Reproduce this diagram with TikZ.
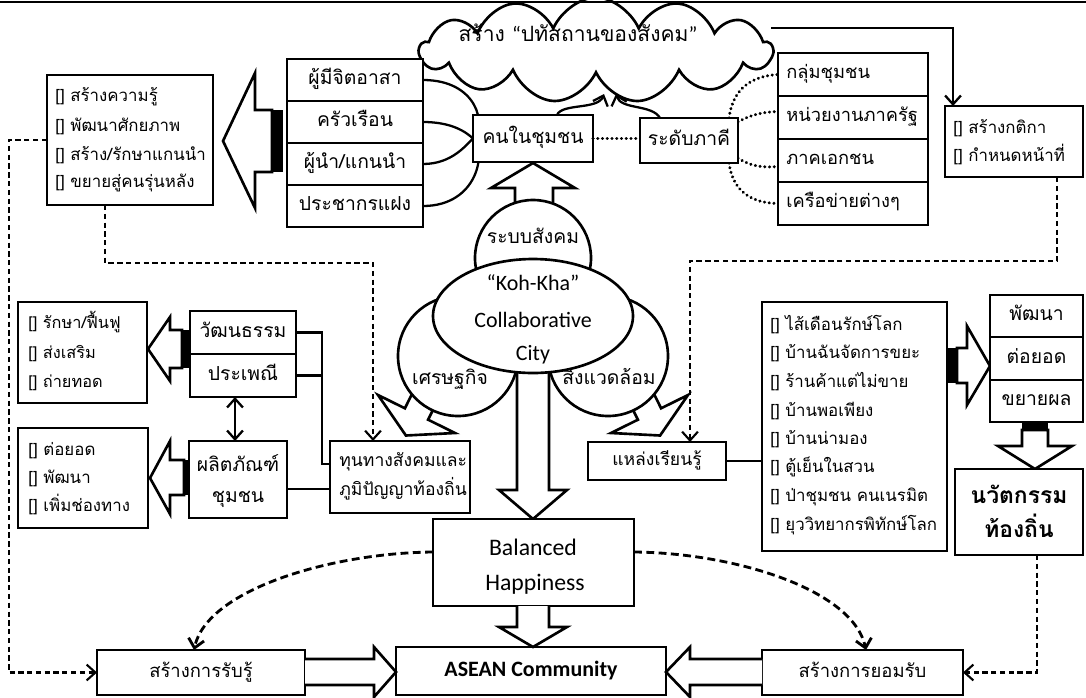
\documentclass[tikz,border=0pt]{standalone}
\usepackage{fontspec}
\setmainfont{Carlito}
\newfontfamily\thf[Script=Thai]{Loma}
\usetikzlibrary{shapes.geometric,shapes.symbols,arrows.meta,backgrounds,calc}
\tikzset{
 bx/.style={draw,line width=1.5pt,fill=white,inner sep=0pt,outer sep=0pt},
 tlab/.style={inner sep=0pt,font=\thf\fontsize{11}{13}\selectfont,text height=8pt,text depth=2.8pt},
 tlst/.style={inner sep=0pt,anchor=west,font=\thf\fontsize{9.6}{11}\selectfont,text height=6.8pt,text depth=2.4pt},
 tlat/.style={inner sep=0pt,font=\fontsize{12.5}{14}\selectfont},
 conn/.style={line width=1.3pt},
 dsh/.style={line width=1.2pt,dash pattern=on 3pt off 2pt},
 dshb/.style={line width=1.6pt,dash pattern=on 4.5pt off 2.5pt},
 dotl/.style={line width=1.8pt,dash pattern=on 0.1pt off 2.6pt,line cap=round},
 harrow/.style={draw,line width=1.5pt,fill=white,line join=miter},
 tipb/.style={-{Straight Barb[length=5pt,width=9pt]}},
}
\newcommand\mkbox[7][]{\node[bx,minimum width={(#5-#3)*0.02cm},minimum height={(#6-#4)*0.02cm},#1] (#2) at ({(#3+#5)/2},{(#4+#6)/2}) {#7};}
\begin{document}
\begin{tikzpicture}[x=0.02cm,y=-0.02cm]
\useasboundingbox (0,0) rectangle (1086,697);

% ---- cloud
\node[cloud,cloud ignores aspect,draw,line width=1.5pt,fill=white,cloud puffs=13,cloud puff arc=120,minimum width={352*0.02cm},minimum height={84*0.02cm},inner sep=0pt,yscale=1.25,transform shape] (cloud) at (596,50) {};
\node[tlab,font=\thf\fontsize{12}{14}\selectfont] (ctx) at (578,37) {สร้าง {\normalfont“}ปทัสถานของสังคม{\normalfont”}};
\draw[line width=1.2pt] (0,2) -- (1086,2);

% ---- upper left
\mkbox{lista}{47}{75}{213}{205}{}
\node[tlst] (a1) at (55,98) {[] สร้างความรู้};
\node[tlst] (a2) at (55,128) {[] พัฒนาศักยภาพ};
\node[tlst] (a3) at (55,157) {[] สร้าง/รักษาแกนนำ};
\node[tlst] (a4) at (55,184) {[] ขยายสู่คนรุ่นหลัง};
\draw[harrow] (272,110) -- (255,110) -- (255,73) -- (223,141) -- (255,208) -- (255,172) -- (272,172) -- cycle;
\fill (272,110) rectangle (283,172);
\mkbox[tlab]{s1}{287}{59}{423}{101}{ผู้มีจิตอาสา}
\mkbox[tlab]{s2}{287}{101}{423}{143}{ครัวเรือน}
\mkbox[tlab]{s3}{287}{143}{423}{185}{ผู้นำ/แกนนำ}
\mkbox[tlab]{s4}{287}{185}{423}{227}{ประชากรแฝง}

% ---- centre top
\mkbox[tlab]{knc}{473}{115}{593}{162}{คนในชุมชน}
\mkbox[tlab]{rdp}{640}{118}{738}{163}{ระดับภาคี}
\mkbox{r1}{778}{53}{928}{96}{}
\mkbox{r2}{778}{96}{928}{139}{}
\mkbox{r3}{778}{139}{928}{182}{}
\mkbox{r4}{778}{182}{928}{225}{}
\node[tlab,anchor=west,font=\thf\fontsize{10.4}{12}\selectfont] (r1t) at (786,74) {กลุ่มชุมชน};
\node[tlab,anchor=west,font=\thf\fontsize{10.4}{12}\selectfont] (r2t) at (786,117) {หน่วยงานภาครัฐ};
\node[tlab,anchor=west,font=\thf\fontsize{10.4}{12}\selectfont] (r3t) at (786,160) {ภาคเอกชน};
\node[tlab,anchor=west,font=\thf\fontsize{10.4}{12}\selectfont] (r4t) at (786,203) {เครือข่ายต่างๆ};
\begin{pgfonlayer}{background}
\draw[conn] (s1.east) .. controls (478,80) and (487,126) .. (knc.west);
\draw[conn] (s2.east) .. controls (452,122) and (466,132) .. (knc.west);
\draw[conn] (s3.east) .. controls (452,164) and (466,145) .. (knc.west);
\draw[conn] (s4.east) .. controls (478,206) and (487,151) .. (knc.west);
\draw[dotl] ($(rdp.north east)+(-9,0)$) .. controls (733,88) and (752,76) .. ($(r1.west)+(0,0)$);
\draw[dotl] ($(rdp.north east)+(0,4)$) .. controls (750,115) and (762,112) .. ($(r2.west)+(0,-6)$);
\draw[dotl] ($(rdp.south east)+(0,-5)$) .. controls (750,166) and (762,168) .. ($(r3.west)+(0,6)$);
\draw[dotl] ($(rdp.south east)+(-9,0)$) .. controls (733,192) and (752,203) .. (r4.west);
\end{pgfonlayer}
\draw[dotl] (knc.east) -- (rdp.west |- knc.east);
\coordinate (ca1) at (604,94);
\coordinate (ca2) at (616,94);
\draw[conn,tipb] ($(knc.north)+(24,0)$) .. controls (562,103) and (598,110) .. (ca1);
\draw[conn,tipb] ($(rdp.north)+(-29,0)$) .. controls (652,104) and (621,110) .. (ca2);
\mkbox{kt}{945}{106}{1083}{177}{}
\node[tlst] (k1) at (953,130) {[] สร้างกติกา};
\node[tlst] (k2) at (953,158) {[] กำหนดหน้าที่};
\coordinate (cr) at (771,28);
\draw[conn,tipb] (cr) -| ($(kt.north west)+(8,0)$);

% ---- three circles and ellipse
\draw[harrow] (515,215) -- (515,188) -- (491,188) -- (533,163) -- (575,188) -- (553,188) -- (553,215) -- cycle;
\node[circle,draw,line width=1.5pt,fill=white,minimum size={116*0.02cm},inner sep=0pt] (soc) at (533,258) {};
\node[tlab] (soct) at (533,239) {ระบบสังคม};
\draw[harrow] (422.6,372.5) -- (404.9,408.3) -- (378,395) -- (405.9,435.5) -- (455,433) -- (428.1,419.7) -- (445.8,383.9) -- cycle;
\draw[harrow] (643.4,372.5) -- (661.1,408.3) -- (688,395) -- (660.1,435.5) -- (611,433) -- (637.9,419.7) -- (620.2,383.9) -- cycle;
\node[circle,draw,line width=1.5pt,fill=white,minimum size={120*0.02cm},inner sep=0pt] (eco) at (458,356) {};
\node[circle,draw,line width=1.5pt,fill=white,minimum size={120*0.02cm},inner sep=0pt] (env) at (608,356) {};
\node[tlab] (ecot) at (450,380) {เศรษฐกิจ};
\node[tlab] (envt) at (609,380) {สิ่งแวดล้อม};
\draw[harrow] (517,368) -- (517,490) -- (499,490) -- (533,519) -- (567,490) -- (549,490) -- (549,368) -- cycle;
\node[ellipse,draw,line width=1.5pt,fill=white,minimum width={200*0.02cm},minimum height={114*0.02cm},inner sep=0pt] (kk) at (533,316) {};
\node[tlat] (kk1) at (533,283) {“Koh-Kha”};
\node[tlat] (kk2) at (533,320) {Collaborative};
\node[tlat] (kk3) at (533,355) {City};

% ---- middle left
\mkbox{listb}{18}{302}{147}{403}{}
\node[tlst,font=\thf\fontsize{9.3}{11}\selectfont] (b1) at (28,325) {[] รักษา/ฟื้นฟู};
\node[tlst,font=\thf\fontsize{9.3}{11}\selectfont] (b2) at (28,355) {[] ส่งเสริม};
\node[tlst,font=\thf\fontsize{9.3}{11}\selectfont] (b3) at (28,384) {[] ถ่ายทอด};
\draw[harrow] (182,330) -- (170,330) -- (170,317) -- (148,349) -- (170,381) -- (170,368) -- (182,368) -- cycle;
\fill (182,330) rectangle (190,368);
\mkbox[tlab]{wat}{190}{311}{296}{354}{วัฒนธรรม}
\mkbox[tlab]{pra}{190}{354}{296}{397}{ประเพณี}
\mkbox{listc}{18}{428}{148}{528}{}
\node[tlst] (c1) at (28,452) {[] ต่อยอด};
\node[tlst] (c2) at (28,480) {[] พัฒนา};
\node[tlst] (c3) at (28,508) {[] เพิ่มช่องทาง};
\draw[harrow] (184,460) -- (170,460) -- (170,441) -- (150,478) -- (170,514) -- (170,495) -- (184,495) -- cycle;
\fill (184,460) rectangle (190,495);
\mkbox{plt}{189}{441}{287}{518}{}
\node[tlab] (plt1) at (238,467) {ผลิตภัณฑ์};
\node[tlab] (plt2) at (238,498) {ชุมชน};
\mkbox{tun}{330}{441}{470}{513}{}
\node[tlst,font=\thf\fontsize{10}{12}\selectfont] (tun1) at (339,463) {ทุนทางสังคมและ};
\node[tlst,font=\thf\fontsize{10}{12}\selectfont] (tun2) at (339,492) {ภูมิปัญญาท้องถิ่น};
\draw[conn] (wat.east) -- (322,0 |- wat.east) -- (322,464) -- (tun.west |- 0,464);
\draw[conn] (pra.east) -- (322,0 |- pra.east);
\draw[conn] (plt.east |- 0,489) -- (tun.west |- 0,489);
\draw[conn,{Straight Barb[length=5pt,width=9pt]}-{Straight Barb[length=5pt,width=9pt]}] (235,0 |- pra.south) -- (235,0 |- plt.north);

% ---- middle right
\mkbox[tlab,font=\thf\fontsize{10}{12}\selectfont]{lrn}{588}{442}{726}{480}{แหล่งเรียนรู้}
\mkbox{listd}{762}{302}{947}{551}{}
\node[tlst] (d1) at (770,327) {[] ไส้เดือนรักษ์โลก};
\node[tlst] (d2) at (770,355) {[] บ้านฉันจัดการขยะ};
\node[tlst] (d3) at (770,384) {[] ร้านค้าแต่ไม่ขาย};
\node[tlst] (d4) at (770,413) {[] บ้านพอเพียง};
\node[tlst] (d5) at (770,441) {[] บ้านน่ามอง};
\node[tlst] (d6) at (770,469) {[] ตู้เย็นในสวน};
\node[tlst] (d7) at (770,498) {[] ป่าชุมชน คนเนรมิต};
\node[tlst] (d8) at (770,527) {[] ยุววิทยากรพิทักษ์โลก};
\draw[conn] (lrn.east) -- (listd.west |- lrn.east);
\fill (947,348) rectangle (957,383);
\draw[harrow] (957,348) -- (967,348) -- (967,326) -- (990,366) -- (967,405) -- (967,383) -- (957,383) -- cycle;
\mkbox[tlab]{p1}{990}{295}{1083}{337}{พัฒนา}
\mkbox[tlab]{p2}{990}{337}{1083}{380}{ต่อยอด}
\mkbox[tlab]{p3}{990}{380}{1083}{422}{ขยายผล}
\fill (1022,422) rectangle (1048,430);
\draw[harrow] (1022,430) -- (1022,446) -- (998,446) -- (1035,469) -- (1072,446) -- (1048,446) -- (1048,430) -- cycle;
\mkbox{nwt}{955}{469}{1083}{555}{}
\node[tlab,font=\thf\bfseries\fontsize{13}{15}\selectfont] (nw1) at (1019,499) {นวัตกรรม};
\node[tlab,font=\thf\bfseries\fontsize{13}{15}\selectfont] (nw2) at (1019,533) {ท้องถิ่น};

% ---- bottom
\mkbox{bal}{433}{519}{634}{606}{}
\node[tlat,font=\fontsize{13.5}{15}\selectfont] (bal1) at (533,547) {Balanced};
\node[tlat,font=\fontsize{13.5}{15}\selectfont] (bal2) at (535,584) {Happiness};
\mkbox[tlat]{asean}{396}{647}{666}{695}{\bfseries ASEAN Community}
\mkbox[tlab,font=\thf\fontsize{10.5}{12}\selectfont]{rabru}{97}{650}{305}{695}{สร้างการรับรู้}
\mkbox[tlab,font=\thf\fontsize{10.5}{12}\selectfont]{yom}{762}{650}{963}{695}{สร้างการยอมรับ}
\draw[harrow] (517,606) -- (517,627) -- (499,627) -- (533,647) -- (567,627) -- (549,627) -- (549,606);
\draw[harrow] (305,659) -- (374,659) -- (374,647) -- (396,672) -- (374,697) -- (374,685) -- (305,685);
\draw[harrow] (762,659) -- (690,659) -- (690,647) -- (666,672) -- (690,697) -- (690,685) -- (762,685);

% ---- dashed connectors
\draw[dsh,tipb] (lista.west) -- ++(-38,0) |- (rabru.west);
\draw[dsh,tipb] (105,0 |- lista.south) -- (105,263) -- (373,263) -- (373,0 |- tun.north);
\draw[dsh,tipb] (1057,0 |- kt.south) -- (1057,261) -- (690,261) -- (690,0 |- lrn.north);
\draw[dsh,tipb] (1037,0 |- nwt.south) |- (yom.east);
\draw[dshb,tipb] (bal.west |- 0,552) .. controls (330,553) and (207,590) .. (194,0 |- rabru.north);
\draw[dshb,tipb] (bal.east |- 0,552) .. controls (736,553) and (853,590) .. (866,0 |- yom.north);
\end{tikzpicture}
\end{document}
